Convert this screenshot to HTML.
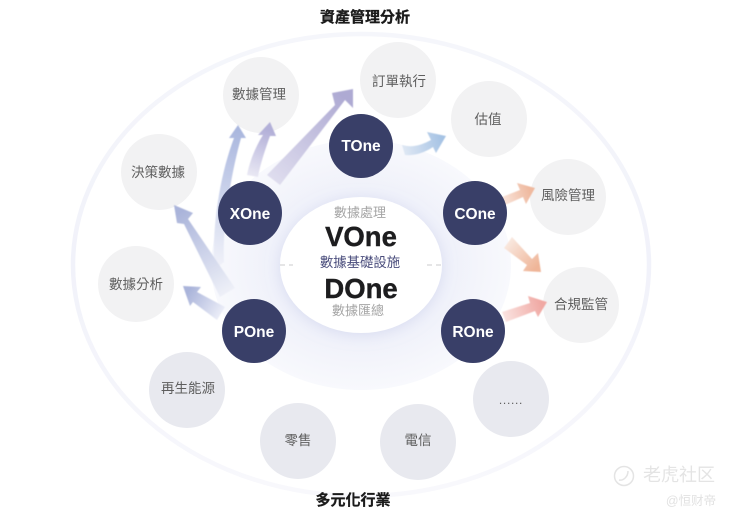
<!DOCTYPE html>
<html><head><meta charset="utf-8">
<style>html,body{margin:0;padding:0;background:#fff}svg{display:block}
text{font-family:"Liberation Sans","Noto Sans CJK TC",sans-serif;text-anchor:middle}
.c{font-size:13.5px;fill:#5e5e5e}
.n{font-size:15.5px;font-weight:700;fill:#fff}
.g{font-size:13px;fill:#a5a5a5}
.b{font-size:15px;font-weight:700;fill:#1a1a1a;stroke:#1a1a1a;stroke-width:.3}
.h{font-size:27.5px;font-weight:700;fill:#1d1d1f;stroke:#1d1d1f;stroke-width:.4}
</style></head><body>
<svg width="729" height="518" viewBox="0 0 729 518" xmlns="http://www.w3.org/2000/svg">
<defs>
<radialGradient id="mid" cx="50%" cy="50%" r="50%"><stop offset="0.55" stop-color="#eef0fa"/><stop offset="0.8" stop-color="#f4f5fb"/><stop offset="1" stop-color="#f8f9fd"/></radialGradient>
<linearGradient id="ring" x1="0" y1="0" x2="0" y2="1"><stop offset="0" stop-color="#f5f6fb"/><stop offset="0.5" stop-color="#f1f2fa"/><stop offset="1" stop-color="#f8f8fc"/></linearGradient>
<filter id="sh" x="-30%" y="-30%" width="160%" height="160%"><feDropShadow dx="0" dy="2" stdDeviation="7" flood-color="#c8cce8" flood-opacity="0.55"/></filter>
<filter id="bl"><feGaussianBlur stdDeviation="0.4"/></filter>
<linearGradient id="a1" gradientUnits="userSpaceOnUse" x1="272" y1="180" x2="345" y2="98"><stop offset="0" stop-color="#dfddee"/><stop offset="1" stop-color="#aeaad3"/></linearGradient>
<linearGradient id="a2" gradientUnits="userSpaceOnUse" x1="252" y1="176" x2="268" y2="130"><stop offset="0" stop-color="#e9e8f4"/><stop offset="1" stop-color="#b3b0d8"/></linearGradient>
<linearGradient id="a3" gradientUnits="userSpaceOnUse" x1="220" y1="270" x2="238" y2="130"><stop offset="0" stop-color="#f2f3fa"/><stop offset="1" stop-color="#aab7de"/></linearGradient>
<linearGradient id="a4" gradientUnits="userSpaceOnUse" x1="228" y1="292" x2="180" y2="212"><stop offset="0" stop-color="#eef0f8"/><stop offset="1" stop-color="#aab4da"/></linearGradient>
<linearGradient id="a5" gradientUnits="userSpaceOnUse" x1="222" y1="314" x2="188" y2="292"><stop offset="0" stop-color="#eceef8"/><stop offset="1" stop-color="#aab4da"/></linearGradient>
<linearGradient id="a6" gradientUnits="userSpaceOnUse" x1="403" y1="150" x2="442" y2="140"><stop offset="0" stop-color="#dfe8f4"/><stop offset="1" stop-color="#a6c3e4"/></linearGradient>
<linearGradient id="a7" gradientUnits="userSpaceOnUse" x1="503" y1="201" x2="530" y2="192"><stop offset="0" stop-color="#f9e4da"/><stop offset="1" stop-color="#efb99f"/></linearGradient>
<linearGradient id="a8" gradientUnits="userSpaceOnUse" x1="508" y1="242" x2="536" y2="268"><stop offset="0" stop-color="#f9e8df"/><stop offset="1" stop-color="#efb598"/></linearGradient>
<linearGradient id="a9" gradientUnits="userSpaceOnUse" x1="504" y1="317" x2="542" y2="305"><stop offset="0" stop-color="#fae3e0"/><stop offset="1" stop-color="#f0a8a3"/></linearGradient>
</defs>
<rect width="729" height="518" fill="#fff"/>
<ellipse cx="361" cy="265" rx="288" ry="231" fill="none" stroke="url(#ring)" stroke-width="4.5"/>
<ellipse cx="361" cy="265" rx="150" ry="125" fill="url(#mid)"/>
<ellipse cx="361" cy="265" rx="81" ry="68" fill="#fff" filter="url(#sh)"/>
<g fill="none" stroke="#d5d5d8" stroke-width="1.2" stroke-dasharray="5 4"><path d="M280 265H293M427 265H441"/></g>

<g fill="#f2f2f3">
<circle cx="261" cy="95" r="38"/><circle cx="159" cy="172" r="38"/><circle cx="136" cy="284" r="38"/>
<circle cx="398" cy="80" r="38"/><circle cx="489" cy="119" r="38"/><circle cx="568" cy="197" r="38"/><circle cx="581" cy="305" r="38"/>
</g>
<g fill="#e8e9ef">
<circle cx="187" cy="390" r="38"/><circle cx="298" cy="441" r="38"/><circle cx="418" cy="442" r="38"/><circle cx="511" cy="399" r="38"/>
</g>

<g filter="url(#bl)">
<path d="M267 175 L335 105 L332 93 L353 89 L353 108 L345 100 L280 185 Z" fill="url(#a1)"/>
<path d="M247 175 C250 160 256 146 263 135 L258 135 L270 122 L276 136 L270 136 C265 150 260 165 258 177 Z" fill="url(#a2)"/>
<path d="M214 270 C212 225 220 175 234 138 L229 138 L238 125 L246 138 L241 138 C232 170 222 225 224 262 Z" fill="url(#a3)"/>
<path d="M220 297 L184 224 L177 223 L174 205 L193 213 L188 219 L235 288 Z" fill="url(#a4)"/>
<path d="M217 320 L193 302 L190 306 L183 286 L201 287 L197 292 L225 307 Z" fill="url(#a5)"/>
<path d="M402 145 C412 148 422 145 431 140 L427 132 L446 136 L436 153 L433 147 C424 153 414 156 405 155 Z" fill="url(#a6)"/>
<path d="M502 197 L520 190 L517 183 L535 188 L526 204 L523 197 L505 205 Z" fill="url(#a7)"/>
<path d="M512 237 L532 259 L538 253 L541 272 L523 271 L527 265 L504 248 Z" fill="url(#a8)"/>
<path d="M502 312 L530 303 L528 296 L547 302 L538 317 L535 311 L506 322 Z" fill="url(#a9)"/>
</g>

<g fill="#393f68">
<circle cx="250" cy="213" r="32"/><circle cx="361" cy="146" r="32"/><circle cx="475" cy="213" r="32"/><circle cx="473" cy="331" r="32"/><circle cx="254" cy="331" r="32"/>
</g>

<text class="n" x="250" y="219">XOne</text>
<text class="n" x="361" y="151">TOne</text>
<text class="n" x="475" y="219">COne</text>
<text class="n" x="473" y="337">ROne</text>
<text class="n" x="254" y="337">POne</text>

<text class="c" x="259" y="99">數據管理</text>
<text class="c" x="158" y="177">決策數據</text>
<text class="c" x="136" y="289">數據分析</text>
<text class="c" x="399" y="86">訂單執行</text>
<text class="c" x="488" y="124">估值</text>
<text class="c" x="568" y="200">風險管理</text>
<text class="c" x="581" y="309">合規監管</text>
<text class="c" x="188" y="393">再生能源</text>
<text class="c" x="298" y="445">零售</text>
<text class="c" x="418" y="445">電信</text>
<text class="c" x="511" y="404" style="font-size:12px;letter-spacing:.7px">......</text>

<text class="b" x="365" y="22">資產管理分析</text>
<text class="b" x="353" y="505">多元化行業</text>

<text class="g" x="360" y="217">數據處理</text>
<text class="h" x="361" y="246">VOne</text>
<text x="360" y="267" style="font-size:13.4px;fill:#4a4d7c">數據基礎設施</text>
<text class="h" x="361" y="298">DOne</text>
<text class="g" x="358" y="315">數據匯總</text>

<g fill="none" stroke="#e4e4e4" stroke-width="1.5"><circle cx="624" cy="476" r="9.5"/><path d="M619 480c4 1 9-3 9-9"/></g>
<text x="679" y="481" style="font-size:18px;fill:#e4e4e4">老虎社区</text>
<text x="691" y="505" style="font-size:12.5px;fill:#e2e2e2">@恒财帝</text>
</svg>
</body></html>
